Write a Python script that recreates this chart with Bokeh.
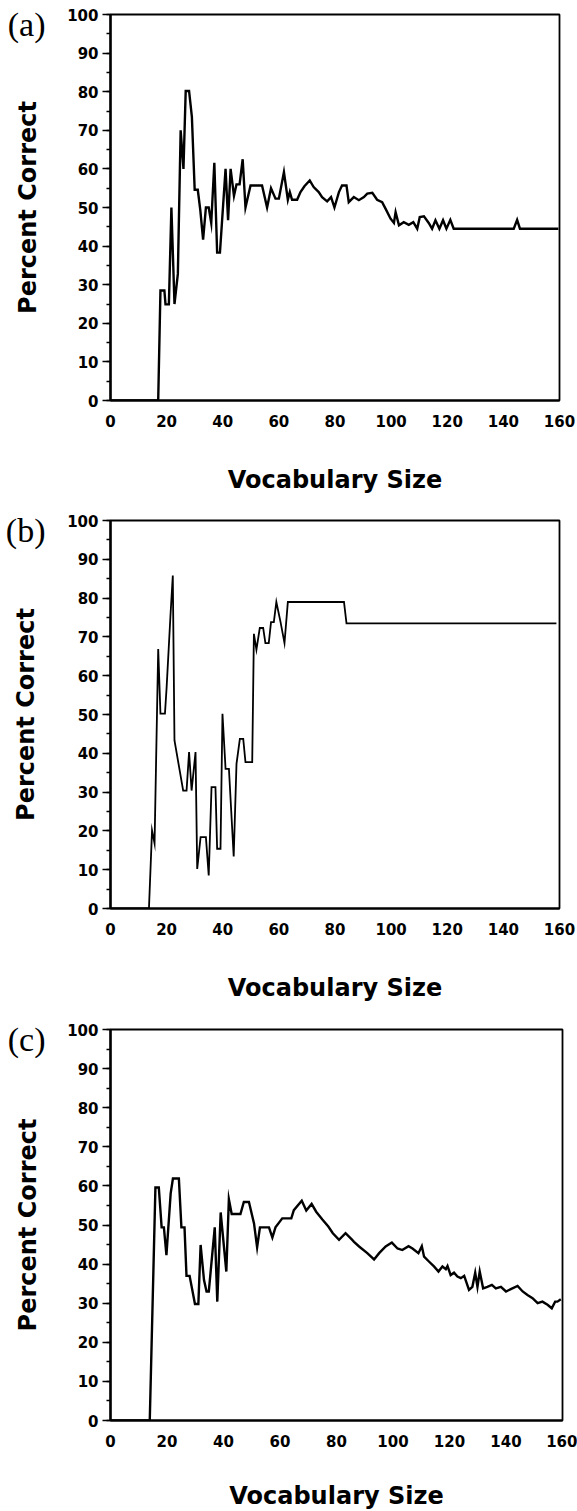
from bokeh.plotting import figure
from bokeh.layouts import column
from bokeh.models import SingleIntervalTicker, FixedTicker, Range1d, LinearAxis
from bokeh.embed import file_html
from bokeh.resources import INLINE

# ---------------- data ----------------
x_ticks = [0, 20, 40, 60, 80, 100, 120, 140, 160]
y_ticks = [0, 10, 20, 30, 40, 50, 60, 70, 80, 90, 100]
panel_labels = ["(a)", "(b)", "(c)"]
panel_label_y = 97.5
x_title = "Vocabulary Size"
y_title = "Percent Correct"

a_x = [0, 17, 17.8, 19.2, 19.6, 20.8, 21.7, 22.8, 24, 25,
       26, 26.8, 28, 29, 30, 31.1, 32, 33, 34, 35,
       35.9, 37, 38, 39, 41, 41.9, 42.8, 44, 44.9, 46,
       47.1, 48.1, 49.9, 54, 55.8, 57.2, 58.8, 60, 61.8, 63.2,
       63.9, 64.7, 66.5, 67.7, 69.1, 71, 72.4, 74.2, 75.4, 77.2,
       78.6, 79.8, 81.4, 82.5, 84.1, 84.9, 86.7, 88.5, 90.3, 91.5,
       93.3, 95, 96.8, 98, 99.8, 101, 101.6, 102.8, 104.5, 106.3,
       107.9, 109.3, 110.2, 111.7, 113.4, 114.6, 115.8, 117.2, 118.5, 119.7,
       121.1, 122.3, 123.5, 143.7, 144.9, 145.9, 159.6]
a_y = [0, 0, 28.5, 28.5, 24.9, 24.9, 50, 25, 32.8, 70,
       60, 80.2, 80.2, 73.5, 54.6, 54.6, 49.3, 41.7, 50, 50,
       46, 61.6, 38.3, 38.3, 60, 46.7, 60, 53, 56, 56,
       62.5, 50, 55.7, 55.7, 50, 55, 52.3, 52.3, 59.2, 52,
       54, 52, 52, 54, 55.5, 57, 55.3, 54, 52.7, 51.6,
       52.7, 50, 54, 55.7, 55.7, 51.4, 52.7, 51.9, 52.7, 53.6,
       53.8, 52, 51.4, 49.7, 47.1, 46, 48.8, 45.4, 46.2, 45.5,
       46.2, 44.5, 47.5, 47.7, 46, 44.5, 46.7, 44.5, 46.7, 44.5,
       46.8, 44.5, 44.5, 44.5, 46.8, 44.5, 44.5]

b_x = [0, 13.7, 14.8, 15.7, 17, 17.8, 19.4, 20, 21.4, 22.2,
       22.8, 25.9, 27.1, 28, 28.9, 30.3, 30.9, 32.1, 34, 35,
       36, 37.4, 38, 39.2, 39.9, 41, 42.2, 43.9, 44.9, 46.1,
       47.3, 48.1, 50.5, 51.1, 52, 53.2, 54.4, 55.2, 56.4, 57.2,
       58.2, 59.1, 60.6, 62, 63.2, 83.2, 84.1, 158.9]
b_y = [0, 0, 20.1, 16.8, 66.9, 50.2, 50.2, 57, 75.9, 85.8,
       43.3, 30.4, 30.4, 40.3, 30.4, 40.3, 10.2, 18.4, 18.4, 8.5,
       31.3, 31.3, 15.4, 15.4, 50.2, 36, 36, 13.4, 37.3, 43.7,
       43.7, 37.7, 37.7, 70.8, 66.7, 72.3, 72.3, 68.4, 68.4, 73.8,
       73.8, 79, 73.8, 68.4, 79, 79, 73.5, 73.5]

c_x = [0, 13.9, 15.9, 17.1, 18.1, 18.9, 19.8, 21.3, 22.1, 24.2,
       25.1, 26.2, 26.9, 28, 29.9, 31.1, 31.9, 33.1, 34, 34.8,
       36.9, 37.8, 39, 41, 41.9, 42.9, 46, 47.2, 49, 50.8,
       51.9, 52.9, 56.1, 57.3, 58.4, 60.8, 64, 64.9, 67.7, 69.3,
       71.2, 72.8, 75, 77.1, 78.7, 80.9, 83.2, 85.4, 86.2, 88.0,
       90.9, 93.3, 95.1, 97.4, 99.6, 101.6, 103.3, 105.5, 106.9, 109.0,
       110.2, 111.0, 112.8, 114.5, 116.1, 117.5, 118.7, 119.3, 120.4, 121.6,
       122.8, 124.0, 125.2, 126.9, 128.1, 129.1, 129.9, 130.7, 131.9, 133.4,
       135.0, 136.4, 138.2, 140.0, 141.7, 144.1, 145.9, 147.6, 149.4, 151.2,
       152.9, 154.7, 156.2, 157.4, 158.2, 159.4]
c_y = [0, 0, 59.6, 59.6, 49.4, 49.4, 42.3, 58.1, 61.9, 61.9,
       49.4, 49.4, 37, 37, 29.8, 29.8, 44.9, 35.9, 33, 33,
       49.4, 30.4, 53.2, 38.1, 56.6, 52.8, 52.8, 55.9, 55.9, 50.4,
       44.3, 49.4, 49.4, 46.8, 49.4, 51.7, 51.7, 53.8, 56.2, 53.7,
       55.4, 53.4, 51.4, 49.6, 47.9, 46.2, 47.9, 46.3, 45.7, 44.5,
       42.8, 41.2, 42.8, 44.5, 45.5, 44.0, 43.6, 44.6, 44.0, 42.8,
       44.6, 41.9, 40.6, 39.4, 38.1, 39.4, 38.7, 39.5, 37.2, 37.8,
       36.8, 36.4, 37.0, 33.4, 34.2, 37.8, 34.2, 38.1, 33.8, 34.2,
       34.7, 33.8, 34.2, 33.0, 33.6, 34.4, 33.0, 32.1, 31.3, 30.0,
       30.4, 29.6, 28.7, 30.4, 30.4, 31.0]

TICK_FONT = "DejaVu Sans"
TITLE_FONT = "DejaVu Sans"


def make_panel(xs, ys, tag, frame_h, border_left, frame_w, border_bottom, title_standoff, lw):
    p = figure(output_backend="svg", toolbar_location=None,
               frame_width=frame_w, frame_height=frame_h,
               min_border_left=border_left, min_border_right=577 - border_left - frame_w,
               min_border_top=14, min_border_bottom=border_bottom,
               x_range=Range1d(0, 160), y_range=Range1d(0, 100))
    p.grid.visible = False
    p.outline_line_color = "black"
    p.outline_line_width = 1.8
    p.background_fill_color = "white"
    p.border_fill_color = "white"

    p.line(xs, ys, line_color="black", line_width=lw, line_join="miter")

    xa = p.xaxis[0]
    xa.ticker = SingleIntervalTicker(interval=20, num_minor_ticks=0)
    xa.major_tick_out = 0
    xa.major_tick_in = 0
    xa.minor_tick_out = 0
    xa.axis_line_color = "black"
    xa.axis_line_width = 1.8
    xa.major_label_text_font = TICK_FONT
    xa.major_label_text_font_style = "bold"
    xa.major_label_text_font_size = "15px"
    xa.major_label_text_color = "black"
    xa.major_label_standoff = 14
    xa.axis_label = x_title
    xa.axis_label_text_font = TITLE_FONT
    xa.axis_label_text_font_style = "bold"
    xa.axis_label_text_font_size = "24px"
    xa.axis_label_text_color = "black"
    xa.axis_label_standoff = title_standoff

    ya = p.yaxis[0]
    ya.ticker = SingleIntervalTicker(interval=10, num_minor_ticks=2)
    ya.major_tick_out = 8
    ya.major_tick_in = 0
    ya.minor_tick_out = 4
    ya.minor_tick_in = 0
    ya.major_tick_line_width = 1.3
    ya.minor_tick_line_width = 1.3
    ya.axis_line_color = "black"
    ya.axis_line_width = 2.4
    ya.major_label_text_font = TICK_FONT
    ya.major_label_text_font_style = "bold"
    ya.major_label_text_font_size = "15px"
    ya.major_label_text_color = "black"
    ya.major_label_standoff = 4

    # outer left axis: carries the panel tag "(a)" as its only tick label
    # and the "Percent Correct" title
    tag_axis = LinearAxis(ticker=FixedTicker(ticks=[panel_label_y], minor_ticks=[]),
                          major_label_overrides={panel_label_y: tag})
    tag_axis.axis_line_color = None
    tag_axis.major_tick_line_color = None
    tag_axis.minor_tick_line_color = None
    tag_axis.major_tick_out = 0
    tag_axis.major_tick_in = 0
    tag_axis.major_label_standoff = 19
    tag_axis.major_label_text_font = "Liberation Serif"
    tag_axis.major_label_text_font_size = "34px"
    tag_axis.major_label_text_color = "black"
    tag_axis.axis_label = y_title
    tag_axis.axis_label_text_font = TITLE_FONT
    tag_axis.axis_label_text_font_style = "bold"
    tag_axis.axis_label_text_font_size = "24px"
    tag_axis.axis_label_text_color = "black"
    tag_axis.axis_label_standoff = -37
    p.add_layout(tag_axis, "left")
    return p


pa = make_panel(a_x, a_y, panel_labels[0], 386, 110, 449, 106, 36, 2.4)
pb = make_panel(b_x, b_y, panel_labels[1], 388, 110, 449, 107, 36, 1.8)
pc = make_panel(c_x, c_y, panel_labels[2], 391, 108, 452, 91, 32, 2.4)

layout = column(pa, pb, pc, spacing=0)
open("out.html", "w").write(file_html(layout, INLINE))
